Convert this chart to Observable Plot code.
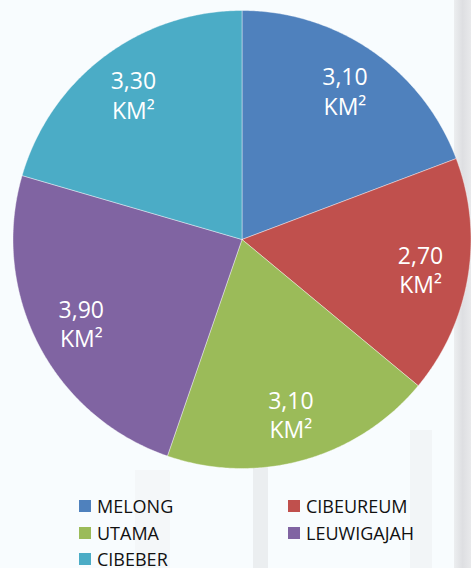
<!DOCTYPE html>
<html><head><meta charset="utf-8">
<script src="https://cdn.jsdelivr.net/npm/d3@7"></script>
<script src="https://cdn.jsdelivr.net/npm/@observablehq/plot@0.6"></script>
<style>
body{margin:0;background:#f8fcfe;width:471px;height:568px;overflow:hidden;position:relative;font-family:"Open Sans",sans-serif;}
.bg{position:absolute;}
#chart{position:absolute;left:0;top:0;}
#legend{position:absolute;left:79px;top:493px;display:grid;grid-template-columns:209px auto;grid-auto-rows:26.5px;font-size:18px;color:#111;line-height:26.5px;}
.item{display:flex;align-items:center;white-space:nowrap;}
.sw{width:12px;height:12px;margin-right:6px;flex:none;}
</style></head><body>
<div class="bg" style="left:454px;top:0;width:17px;height:568px;background:linear-gradient(90deg,#eceef0,#dedfe2 50%,#e8e9eb)"></div>
<div class="bg" style="left:410px;top:430px;width:22px;height:138px;background:#eef0f2;opacity:.6"></div>
<div class="bg" style="left:253px;top:460px;width:15px;height:108px;background:#e6e8ea;opacity:.7"></div>
<div class="bg" style="left:135px;top:470px;width:35px;height:98px;background:#eff1f3;opacity:.5"></div>
<div id="chart"></div>
<div id="legend"></div>
<script>
const categories = ["MELONG", "CIBEUREUM", "UTAMA", "LEUWIGAJAH", "CIBEBER"];
const areas = [3.10, 2.70, 3.10, 3.90, 3.30];
const colors = ["#4F81BD", "#C0504D", "#9BBB59", "#8064A2", "#4BACC6"];
const unit = "KM²";

const R = 229;       // pie radius (px units of the scales)
const labelR = 181;  // label distance from centre
const total = d3.sum(areas);

// build slice polygons from the values
const slices = [];
const labels = [];
let start = 0;
categories.forEach((name, i) => {
  const span = areas[i] / total * 2 * Math.PI;
  const end = start + span;
  const n = Math.max(2, Math.ceil(span / (Math.PI / 360)));
  slices.push({name, x: 0, y: 0});
  for (let k = 0; k <= n; k++) {
    const a = start + span * k / n;
    slices.push({name, x: R * Math.sin(a), y: -R * Math.cos(a)});
  }
  slices.push({name, x: 0, y: 0});
  const mid = (start + end) / 2;
  labels.push({name, x: labelR * Math.sin(mid), y: -labelR * Math.cos(mid),
    text: areas[i].toFixed(2).replace(".", ",") + "\n" + unit});
  start = end;
});

const chart = Plot.plot({
  width: 471,
  height: 478,
  margin: 0,
  style: {background: "transparent", overflow: "visible"},
  x: {domain: [-241.5, 229.5], range: [0, 471], axis: null},
  y: {domain: [-239, 239], range: [0, 478], axis: null},
  color: {domain: categories, range: colors},
  marks: [
    Plot.line(slices, {x: "x", y: "y", z: "name", fill: "name", stroke: "white",
      strokeWidth: 0.8, strokeOpacity: 0.5, curve: "linear-closed"}),
    Plot.text(labels, {x: "x", y: "y", text: "text", fill: "white", fontSize: 23,
      fontFamily: "Open Sans", lineHeight: 1.27, textAnchor: "middle", lineAnchor: "middle"})
  ]
});
document.getElementById("chart").appendChild(chart);

const legend = document.getElementById("legend");
categories.forEach((name, i) => {
  const item = document.createElement("div");
  item.className = "item";
  const sw = document.createElement("span");
  sw.className = "sw";
  sw.style.background = colors[i];
  const t = document.createElement("span");
  t.textContent = name;
  item.appendChild(sw);
  item.appendChild(t);
  legend.appendChild(item);
});
</script>
</body></html>
